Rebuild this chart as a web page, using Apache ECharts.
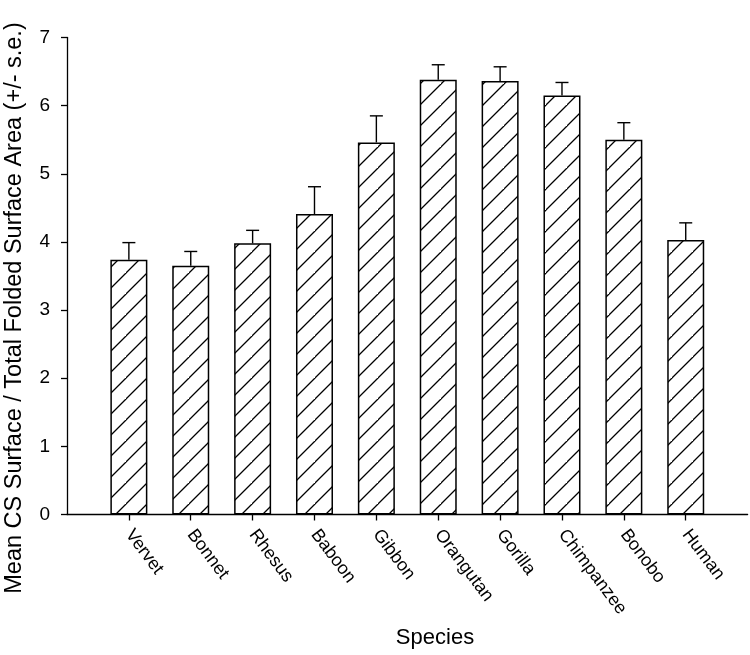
<!DOCTYPE html>
<html>
<head>
<meta charset="utf-8">
<script src="https://cdn.jsdelivr.net/npm/echarts@6/dist/echarts.min.js"></script>
<style>
html,body{margin:0;padding:0;background:#fff;}
#chart{width:750px;height:655px;}
</style>
</head>
<body>
<div id="chart"></div>
<script>
// ---- data ----
const categories = ['Vervet','Bonnet','Rhesus','Baboon','Gibbon','Orangutan','Gorilla','Chimpanzee','Bonobo','Human'];
const means = [3.74, 3.65, 3.98, 4.41, 5.46, 6.38, 6.36, 6.15, 5.50, 4.03];
const stdErr = [0.25, 0.21, 0.19, 0.40, 0.39, 0.22, 0.21, 0.19, 0.25, 0.25];
const yTicks = [0, 1, 2, 3, 4, 5, 6, 7];
const yTitle = 'Mean CS Surface / Total Folded Surface Area (+/- s.e.)';
const xTitle = 'Species';

// ---- hatch pattern ----
const P = 21;
const pc = document.createElement('canvas');
pc.width = P; pc.height = P;
const g = pc.getContext('2d');
g.fillStyle = '#fff';
g.fillRect(0, 0, P, P);
g.strokeStyle = '#000';
g.lineWidth = 1.3;
g.beginPath();
g.moveTo(-2, P + 2); g.lineTo(P + 2, -2);
g.moveTo(-2 - P, P + 2); g.lineTo(2, -2);
g.moveTo(P - 2, 2 * P + 2); g.lineTo(2 * P + 2, P - 2);
g.stroke();

const idx = categories.map((c, i) => i);
const barData = means.map((v, i) => [i, v]);
const errData = means.map((v, i) => [i, v, v + stdErr[i]]);

const font = 'Liberation Sans, Arial, sans-serif';
const chart = echarts.init(document.getElementById('chart'), null, {renderer: 'canvas'});
chart.setOption({
  backgroundColor: '#fff',
  animation: false,
  grid: {left: 67, right: 2.4, top: 37.5, bottom: 140.5},
  xAxis: {
    type: 'value', min: -1, max: 10, interval: 1,
    splitLine: {show: false},
    axisLine: {show: true, onZero: false, lineStyle: {color: '#000', width: 1.3}},
    axisTick: {show: true, customValues: idx, length: 6, inside: false, lineStyle: {color: '#000', width: 1.3}},
    axisLabel: {
      customValues: idx, rotate: -53, margin: 17,
      formatter: v => categories[v], color: '#000', fontSize: 18, fontFamily: font
    }
  },
  yAxis: {
    type: 'value', min: yTicks[0], max: yTicks[yTicks.length - 1], interval: 1,
    splitLine: {show: false},
    axisLine: {show: true, onZero: false, lineStyle: {color: '#000', width: 1.3}},
    axisTick: {show: true, length: 6, inside: false, lineStyle: {color: '#000', width: 1.3}},
    axisLabel: {color: '#000', fontSize: 19, fontFamily: font, margin: 17}
  },
  graphic: [
    {type: 'text', x: 3, y: 308, rotation: Math.PI / 2,
     style: {text: yTitle, fontSize: 23.5, fontFamily: font, fill: '#000', textAlign: 'center', textVerticalAlign: 'top'}},
    {type: 'text', x: 435, y: 638,
     style: {text: xTitle, fontSize: 22, fontFamily: font, fill: '#000', textAlign: 'center', textVerticalAlign: 'middle'}}
  ],
  series: [
    {
      type: 'bar', data: barData, barWidth: 37,
      itemStyle: {color: {image: pc, repeat: 'repeat'}, borderColor: '#000', borderWidth: 1.5},
      z: 2
    },
    {
      type: 'custom', data: errData, z: 3,
      renderItem: function (params, api) {
        const x = api.value(0);
        const lo = api.coord([x, api.value(1)]);
        const hi = api.coord([x, api.value(2)]);
        const hw = 6.5;
        return {
          type: 'group',
          children: [
            {type: 'line', shape: {x1: lo[0], y1: lo[1], x2: hi[0], y2: hi[1]}, style: {stroke: '#000', lineWidth: 1.4}},
            {type: 'line', shape: {x1: hi[0] - hw, y1: hi[1], x2: hi[0] + hw, y2: hi[1]}, style: {stroke: '#000', lineWidth: 1.4}}
          ]
        };
      }
    }
  ]
});
</script>
</body>
</html>
